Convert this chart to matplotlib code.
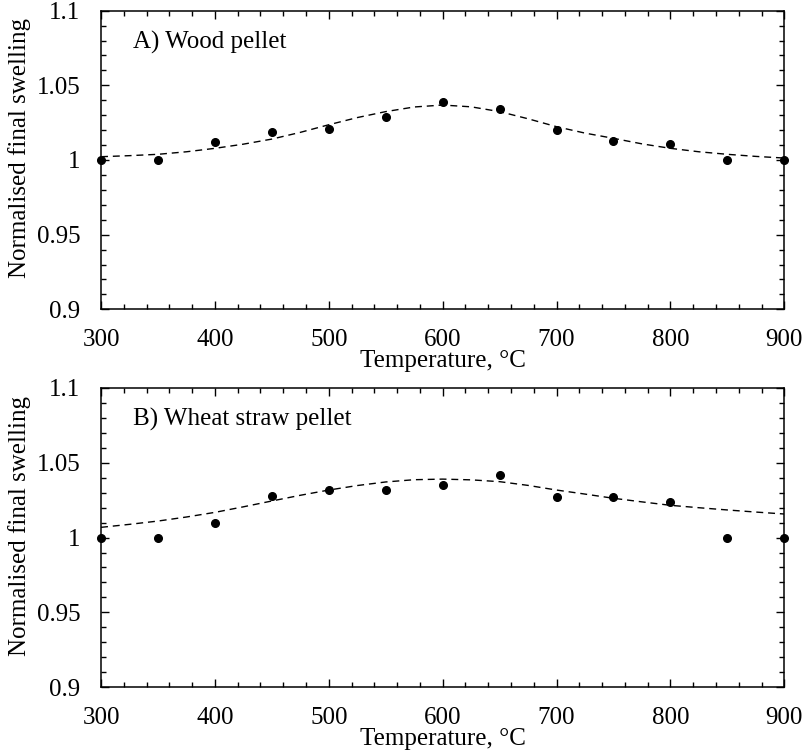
"""Normalised final swelling vs. temperature for wood and wheat straw pellets."""
import matplotlib

matplotlib.use("Agg")
import matplotlib.pyplot as plt
from matplotlib.ticker import FormatStrFormatter, FuncFormatter, MultipleLocator

# Measured points.
temps = [300, 350, 400, 450, 500, 550, 600, 650, 700, 750, 800, 850, 900]
wood = [1.000, 1.000, 1.012, 1.019, 1.021, 1.029, 1.039, 1.034, 1.020, 1.013, 1.011, 1.000, 1.000]
straw = [1.000, 1.000, 1.010, 1.028, 1.032, 1.032, 1.035, 1.042, 1.027, 1.027, 1.024, 1.000, 1.000]

# Fitted curves.
fit_temps = [300, 325, 350, 375, 400, 425, 450, 475, 500, 525, 550, 575, 600,
             625, 650, 675, 700, 725, 750, 775, 800, 825, 850, 875, 900]
wood_fit = [1.0022, 1.0029, 1.0038, 1.0055, 1.0078, 1.0106, 1.0140, 1.0185, 1.0236,
            1.0284, 1.0324, 1.0355, 1.0368, 1.0356, 1.0324, 1.0276, 1.0223, 1.0180,
            1.0145, 1.0108, 1.0078, 1.0055, 1.0038, 1.0024, 1.0013]
straw_fit = [1.0068, 1.0088, 1.0110, 1.0137, 1.0168, 1.0205, 1.0244, 1.0282, 1.0317,
             1.0347, 1.0371, 1.0386, 1.0390, 1.0385, 1.0373, 1.0348, 1.0317, 1.0290,
             1.0262, 1.0238, 1.0215, 1.0199, 1.0184, 1.0170, 1.0157]

panels = [
    ("A) Wood pellet", wood, wood_fit),
    ("B) Wheat straw pellet", straw, straw_fit),
]

plt.rcParams["font.family"] = ["Liberation Serif", "DejaVu Serif"]
plt.rcParams["font.size"] = 18

fig = plt.figure(figsize=(8.05, 7.52), dpi=100)
ax_rects = [[0.1255, 0.5887, 0.8488, 0.3971], [0.1255, 0.0860, 0.8488, 0.3984]]

for rect, (title, ys, fit) in zip(ax_rects, panels):
    ax = fig.add_axes(rect)
    ax.plot(fit_temps, fit, color="black", linestyle=(0, (5, 3.5)), linewidth=1.0)
    ax.plot(temps, ys, "o", color="black", markersize=5.5, clip_on=False, zorder=3)

    ax.set_xlim(300, 900)
    ax.set_ylim(0.9, 1.1)

    # Axis ticks and formatting.
    ax.xaxis.set_major_locator(MultipleLocator(100))
    ax.xaxis.set_minor_locator(MultipleLocator(20))
    ax.yaxis.set_major_locator(MultipleLocator(0.05))
    ax.yaxis.set_minor_locator(MultipleLocator(0.01))
    ax.yaxis.set_major_formatter(FuncFormatter(lambda v, p: f"{v:g}"))
    ax.xaxis.set_major_formatter(FormatStrFormatter("%d"))
    ax.tick_params(which="both", direction="in", top=True, right=True, width=1.0)
    ax.tick_params(which="major", length=5.5)
    ax.tick_params(which="minor", length=3.5)
    ax.tick_params(axis="x", which="major", pad=14)
    ax.tick_params(axis="y", which="major", pad=15)
    for spine in ax.spines.values():
        spine.set_linewidth(1.1)

    ax.set_xlabel("Temperature, °C", va="center")
    ax.xaxis.set_label_coords(0.5, -0.172)
    ax.set_ylabel("Normalised final swelling", va="center")
    ax.yaxis.set_label_coords(-0.1186, 0.54)

    ax.text(328, 1.079, title, ha="left", va="center")

fig.savefig("out.png", dpi=100)
